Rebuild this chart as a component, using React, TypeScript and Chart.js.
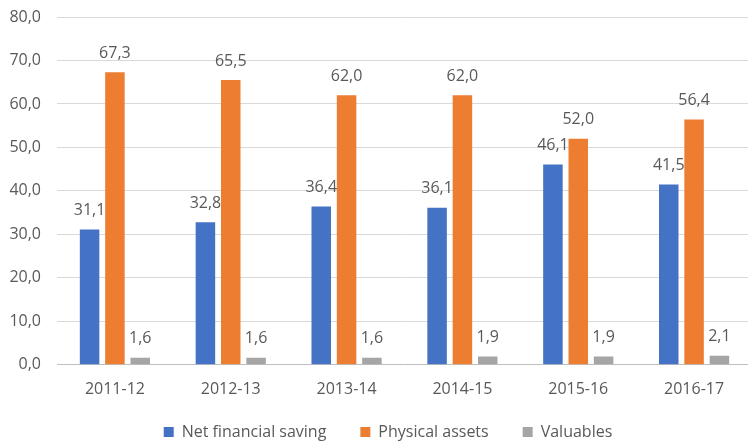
import React, { useEffect, useRef } from "react";
import { Chart, registerables } from "chart.js";

Chart.register(...registerables);

const categories = ["2011-12", "2012-13", "2013-14", "2014-15", "2015-16", "2016-17"];
const netFinancialSaving = [31.1, 32.8, 36.4, 36.1, 46.1, 41.5];
const physicalAssets = [67.3, 65.5, 62.0, 62.0, 52.0, 56.4];
const valuables = [1.6, 1.6, 1.6, 1.9, 1.9, 2.1];
const seriesNames = ["Net financial saving", "Physical assets", "Valuables"];
const yTicks = { min: 0, max: 80, step: 10 };

const FONT = "'Open Sans', sans-serif";
const TEXT = "#595959";
const SIZE = 16;
const fmt = (v: number) => v.toFixed(1).replace(".", ",");

const labelPlugin = {
  id: "valueLabels",
  afterDatasetsDraw(chart: any) {
    const ctx = chart.ctx;
    ctx.save();
    ctx.font = `${SIZE}px ${FONT}`;
    ctx.fillStyle = TEXT;
    ctx.textAlign = "center";
    ctx.textBaseline = "middle";
    chart.data.datasets.forEach((ds: any, i: number) => {
      const meta = chart.getDatasetMeta(i);
      meta.data.forEach((el: any, j: number) => {
        ctx.fillText(fmt(ds.data[j]), el.x, el.y - 19);
      });
    });
    ctx.restore();
  },
};

const legendPlugin = {
  id: "bottomLegend",
  afterDraw(chart: any) {
    const ctx = chart.ctx;
    ctx.save();
    ctx.font = `${SIZE}px ${FONT}`;
    ctx.textBaseline = "middle";
    ctx.textAlign = "left";
    const box = 10;
    const gap = 8;
    const spacing = 34;
    const items = chart.data.datasets.map((ds: any) => ({
      text: ds.label,
      color: ds.backgroundColor,
      w: ctx.measureText(ds.label).width,
    }));
    const total =
      items.reduce((s: number, it: any) => s + box + gap + it.w, 0) + spacing * (items.length - 1);
    let x = chart.width / 2 + 12 - total / 2;
    const y = chart.height - 11;
    items.forEach((it: any) => {
      ctx.fillStyle = it.color;
      ctx.fillRect(x, y - box / 2, box, box);
      ctx.fillStyle = TEXT;
      ctx.fillText(it.text, x + box + gap, y);
      x += box + gap + it.w + spacing;
    });
    ctx.restore();
  },
};

export default function App() {
  const ref = useRef<HTMLCanvasElement>(null);
  useEffect(() => {
    const chart = new Chart(ref.current!, {
      type: "bar",
      data: {
        labels: categories,
        datasets: [
          { label: seriesNames[0], data: netFinancialSaving, backgroundColor: "#4472C4" },
          { label: seriesNames[1], data: physicalAssets, backgroundColor: "#ED7D31" },
          { label: seriesNames[2], data: valuables, backgroundColor: "#A5A5A5" },
        ],
      },
      plugins: [labelPlugin, legendPlugin],
      options: {
        animation: false,
        responsive: false,
        maintainAspectRatio: false,
        datasets: { bar: { categoryPercentage: 0.656, barPercentage: 0.77 } },
        layout: { padding: { top: 17, left: 0, right: 0, bottom: 29 } },
        plugins: {
          tooltip: { enabled: false },
          legend: { display: false },
        },
        scales: {
          x: {
            grid: { display: false, drawTicks: false },
            border: { display: false },
            ticks: { color: TEXT, font: { family: FONT, size: SIZE }, padding: 15, maxRotation: 0 },
          },
          y: {
            min: yTicks.min,
            max: yTicks.max,
            border: { display: false },
            grid: {
              drawTicks: false,
              color: (c: any) => (c.tick && c.tick.value === 0 ? "#bfbfbf" : "#d9d9d9"),
            },
            ticks: {
              stepSize: yTicks.step,
              color: TEXT,
              font: { family: FONT, size: SIZE },
              padding: 16,
              callback: (v: any) => fmt(Number(v)),
            },
            afterFit: (s: any) => {
              s.width = 57;
              s.paddingTop = 0;
            },
          },
        },
      },
    });
    return () => chart.destroy();
  }, []);
  return (
    <div style={{ position: "fixed", left: 0, top: 0, width: 748, height: 443, overflow: "hidden", background: "#fff" }}>
      <canvas ref={ref} width={752} height={443} style={{ width: 752, height: 443, display: "block" }} />
    </div>
  );
}
